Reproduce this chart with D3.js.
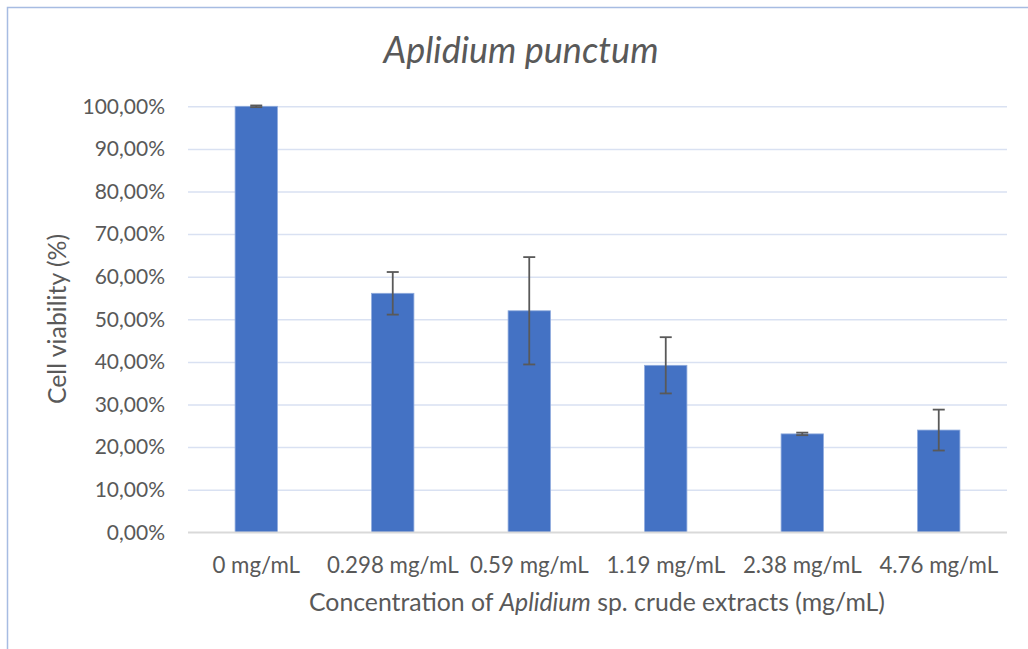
<!DOCTYPE html>
<html>
<head>
<meta charset="utf-8">
<script src="https://cdn.jsdelivr.net/npm/d3@7"></script>
<style>
  html, body { margin: 0; padding: 0; background: #ffffff; }
  svg { display: block; }
  text { font-family: Lato, "Open Sans", sans-serif; fill: #595959; }
</style>
</head>
<body>
<svg id="chart" width="1028" height="649"></svg>
<script>
// ---- data ----
const categories = ["0 mg/mL", "0.298 mg/mL", "0.59 mg/mL", "1.19 mg/mL", "2.38 mg/mL", "4.76 mg/mL"];
const viability = [1.000, 0.561, 0.520, 0.392, 0.231, 0.240];
const errors = [0.002, 0.050, 0.126, 0.066, 0.003, 0.048];
const yTicks = [0, 0.1, 0.2, 0.3, 0.4, 0.5, 0.6, 0.7, 0.8, 0.9, 1.0];
const titleText = "Aplidium punctum";
const yTitle = "Cell viability (%)";

const svg = d3.select("#chart");
const W = 1028, H = 649;
const m = { left: 188, right: 1007, top: 106.3, bottom: 532.3 };

// frame (partially cropped chart-area border)
svg.append("path")
  .attr("d", `M${W},7.5 H7.5 V${H}`)
  .attr("fill", "none")
  .attr("stroke", "#a7bce2")
  .attr("stroke-width", 1.5);

const x = d3.scaleBand().domain(categories).range([m.left, m.right])
  .paddingInner(0.69).paddingOuter(0.345);
const y = d3.scaleLinear().domain([0, 1]).range([m.bottom, m.top]);

const loc = d3.formatLocale({ decimal: ",", thousands: ".", grouping: [3], currency: ["", "€"] });
const pct = loc.format(".2%");

// gridlines
const yAxis = d3.axisLeft(y).tickValues(yTicks).tickFormat(pct)
  .tickSize(-(m.right - m.left)).tickPadding(23);
const gy = svg.append("g").attr("transform", `translate(${m.left},0)`).call(yAxis);
gy.select(".domain").remove();
gy.selectAll(".tick line").attr("stroke", "#d9e1f2").attr("stroke-width", 1.5)
  .filter(d => d === 0).attr("stroke", "#d9d9d9");
gy.selectAll(".tick text").attr("font-size", 21).attr("fill", "#595959")
  .style("font-family", "Lato, sans-serif");

// bars
svg.append("g").selectAll("rect").data(categories).join("rect")
  .attr("x", d => x(d))
  .attr("width", x.bandwidth())
  .attr("y", (d, i) => y(viability[i]))
  .attr("height", (d, i) => y(0) - y(viability[i]))
  .attr("fill", "#4472c4")
  .attr("stroke", "#8eaadc")
  .attr("stroke-width", 0.8);

// redraw baseline on top of bars
svg.append("line")
  .attr("x1", m.left).attr("x2", m.right)
  .attr("y1", y(0)).attr("y2", y(0))
  .attr("stroke", "#d9d9d9").attr("stroke-width", 1.5);

// error bars
const eg = svg.append("g").attr("stroke", "#595959").attr("stroke-width", 1.8);
categories.forEach((c, i) => {
  const cx = x(c) + x.bandwidth() / 2;
  const lo = y(viability[i] - errors[i]), hi = y(viability[i] + errors[i]);
  eg.append("line").attr("x1", cx).attr("x2", cx).attr("y1", lo).attr("y2", hi);
  eg.append("line").attr("x1", cx - 6).attr("x2", cx + 6).attr("y1", lo).attr("y2", lo);
  eg.append("line").attr("x1", cx - 6).attr("x2", cx + 6).attr("y1", hi).attr("y2", hi);
});

// x axis labels
const xAxis = d3.axisBottom(x).tickSize(0).tickPadding(25);
const gx = svg.append("g").attr("transform", `translate(0,${m.bottom})`).call(xAxis);
gx.select(".domain").remove();
gx.selectAll(".tick text").attr("font-size", 22.3).attr("fill", "#595959")
  .style("font-family", "Lato, sans-serif");

// title
svg.append("text")
  .attr("x", 521).attr("y", 63)
  .attr("text-anchor", "middle")
  .attr("font-size", 36)
  .attr("font-style", "italic")
  .text(titleText);

// x axis title
const xt = svg.append("text")
  .attr("x", 597).attr("y", 611)
  .attr("text-anchor", "middle")
  .attr("font-size", 24.8);
xt.append("tspan").text("Concentration of ");
xt.append("tspan").attr("font-style", "italic").text("Aplidium");
xt.append("tspan").text(" sp. crude extracts (mg/mL)");

// y axis title
svg.append("text")
  .attr("transform", "translate(66,319) rotate(-90)")
  .attr("text-anchor", "middle")
  .attr("font-size", 24.8)
  .text(yTitle);
</script>
</body>
</html>
